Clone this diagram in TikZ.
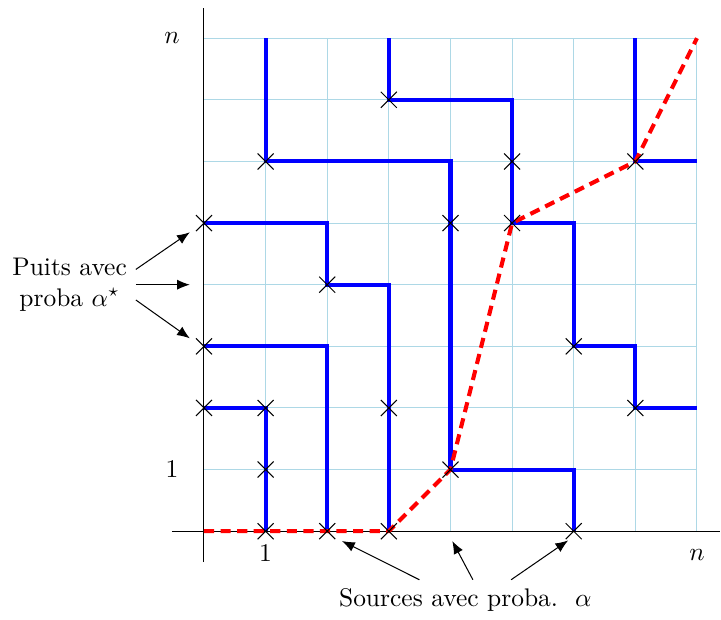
\documentclass[tikz,border=0pt]{standalone}
\usepackage{amsmath,amssymb}
\usepackage{xcolor}
\usetikzlibrary{arrows.meta,positioning}
\definecolor{grille}{RGB}{173,216,230}

\begin{document}
\begin{tikzpicture}[x=0.85cm, y=0.85cm, >={Latex[length=5pt,width=4pt]}, chemin/.style={blue, ultra thick}, diag/.style={red, ultra thick, dash pattern=on 4pt off 2.5pt}]
\useasboundingbox (-3.31,-1.43) rectangle (8.39,8.62);
% grille et axes
\draw[grille, thin] (0,0) grid[xstep=0.85cm, ystep=0.85cm] (8,8);
\draw (-0.52,0) -- (8.38,0);
\draw (0,-0.5) -- (0,8.49);
\node (ny) at (-0.52,8) {$n$};
\node (uny) at (-0.52,1) {$1$};
\node (unx) at (1,-0.36) {$1$};
\node (nx) at (8,-0.38) {$n$};
% chemins
\draw[chemin] (1,8) -- (1,6) -- (4,6) -- (4,1) -- (6,1) -- (6,0);
\draw[chemin] (3,8) -- (3,7) -- (5,7) -- (5,5) -- (6,5) -- (6,3) -- (7,3) -- (7,2) -- (8,2);
\draw[chemin] (7,8) -- (7,6) -- (8,6);
\draw[chemin] (0,5) -- (2,5) -- (2,4) -- (3,4) -- (3,0);
\draw[chemin] (0,3) -- (2,3) -- (2,0);
\draw[chemin] (0,2) -- (1,2) -- (1,0);
\draw[diag] (0,0) -- (3,0) -- (4,1) -- (5,5) -- (7,6) -- (8,8);
% croix
\foreach \p in {(1,6),(4,5),(4,1),(6,0),(3,7),(5,6),(5,5),(6,3),(7,2),(7,6),(0,5),(2,4),(3,2),(3,0),(0,3),(2,0),(0,2),(1,2),(1,1),(1,0)}
  \draw \p +(-0.13,-0.13) -- +(0.13,0.13) +(-0.13,0.13) -- +(0.13,-0.13);
% puits
\node[align=center] (puits) at (-2.18,4) {Puits avec\\proba $\alpha^\star$};
\coordinate (p5) at (-0.23,4.85);
\coordinate (p4) at (-0.23,4);
\coordinate (p3) at (-0.23,3.13);
\draw[->] ([yshift=6pt]puits.east) -- (p5);
\draw[->] (puits.east) -- (p4);
\draw[->] ([yshift=-6pt]puits.east) -- (p3);
% sources
\node (sources) at (4.24,-1.12) {Sources avec proba.\ \ $\alpha$};
\coordinate (s1) at (2.24,-0.16);
\coordinate (s2) at (4.03,-0.16);
\coordinate (s3) at (5.91,-0.15);
\draw[->] ([xshift=-18pt]sources.north) -- (s1);
\draw[->] ([xshift=3pt]sources.north) -- (s2);
\draw[->] ([xshift=18pt]sources.north) -- (s3);
\end{tikzpicture}
\end{document}
